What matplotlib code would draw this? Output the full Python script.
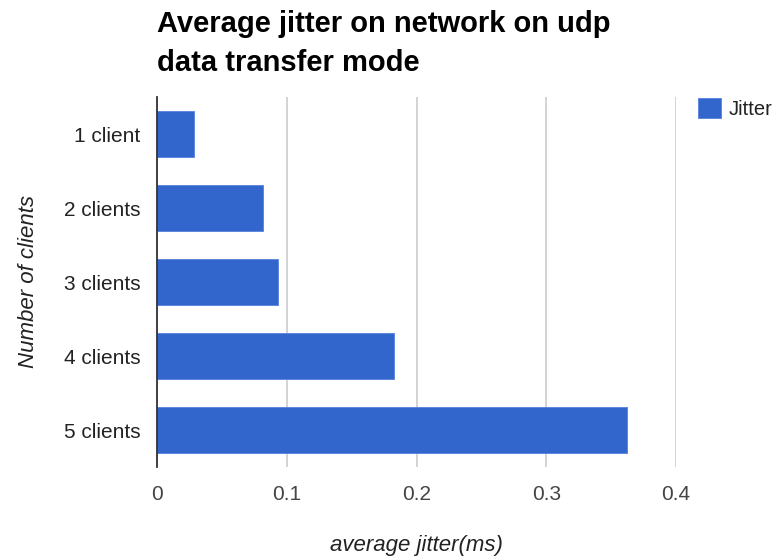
import matplotlib.pyplot as plt

clients = ["1 client", "2 clients", "3 clients", "4 clients", "5 clients"]
jitter = [0.0285, 0.082, 0.0935, 0.1825, 0.3625]
ticks = [0, 0.1, 0.2, 0.3, 0.4]
title_lines = ["Average jitter on network on udp", "data transfer mode"]

plt.rcParams["font.family"] = ["Liberation Sans", "DejaVu Sans"]

W, H = 782, 556
fig = plt.figure(figsize=(W / 100, H / 100), dpi=100)
# plot area in pixel coordinates
left, right, top, bottom = 157, 676, 97, 467
ax = fig.add_axes([left / W, 1 - bottom / H, (right - left) / W, (bottom - top) / H])

ypos = list(range(len(clients)))
ax.barh(ypos, jitter, height=0.61, color="#3366cc", edgecolor="#5580dd",
        linewidth=0.6, label="Jitter", zorder=3)
ax.set_ylim(len(clients) - 0.5, -0.5)
ax.set_xlim(0, 0.4)
ax.set_yticks(ypos)
ax.set_yticklabels(clients, fontsize=15, color="#222222")
ax.set_xticks(ticks)
ax.set_xticklabels(["0", "0.1", "0.2", "0.3", "0.4"], fontsize=15, color="#444444")
ax.tick_params(axis="both", length=0)
ax.tick_params(axis="y", pad=12)
ax.tick_params(axis="x", pad=13)

ax.grid(axis="x", color="#cccccc", linewidth=1.2, zorder=0)
for side in ["top", "right", "bottom"]:
    ax.spines[side].set_visible(False)
ax.spines["left"].set_color("#333333")
ax.spines["left"].set_linewidth(1.3)
ax.spines["left"].set_zorder(4)

ax.set_xlabel("average jitter(ms)", fontsize=16, style="italic", color="#222222", labelpad=22)
ax.set_ylabel("Number of clients", fontsize=16, style="italic", color="#222222", labelpad=18)

# two-line bold title, baselines set in pixels
for line, base in zip(title_lines, [32, 71]):
    fig.text(157 / W, 1 - base / H, line, fontsize=21, fontweight="bold",
             color="#000000", va="baseline", ha="left")

leg = ax.legend(loc="upper left",
                bbox_to_anchor=((698 - left) / (right - left), (bottom - 98) / (bottom - top)),
                frameon=False, fontsize=14.5, handlelength=1.15, handleheight=1.15,
                handletextpad=0.35, borderaxespad=0, borderpad=0)
for t in leg.get_texts():
    t.set_color("#222222")

fig.savefig("out.png", dpi=100)
